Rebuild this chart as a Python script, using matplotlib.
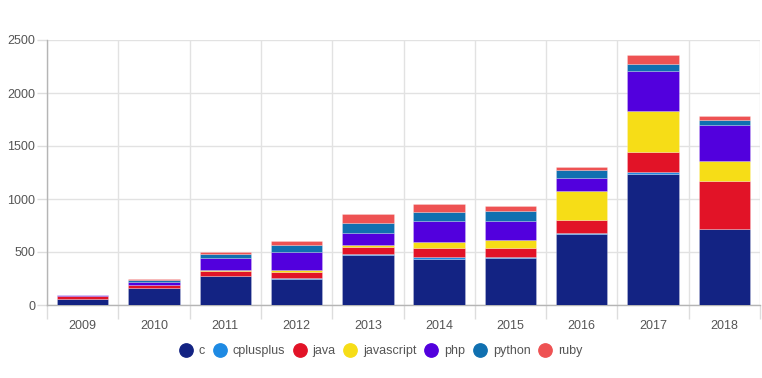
import matplotlib
matplotlib.use("Agg")
import matplotlib.pyplot as plt
from matplotlib.lines import Line2D
import numpy as np

years = ["2009", "2010", "2011", "2012", "2013", "2014", "2015", "2016", "2017", "2018"]
c = [55, 160, 275, 250, 475, 435, 445, 670, 1240, 715]
cplusplus = [2, 5, 3, 5, 3, 15, 12, 5, 15, 5]
java = [25, 22, 45, 60, 70, 90, 85, 125, 185, 450]
javascript = [2, 3, 5, 12, 20, 50, 75, 275, 393, 190]
php = [10, 28, 120, 175, 115, 205, 180, 123, 377, 340]
python = [3, 20, 30, 60, 90, 85, 88, 78, 66, 45]
ruby = [2, 5, 25, 38, 85, 70, 52, 30, 85, 38]

series = [("c", c), ("cplusplus", cplusplus), ("java", java), ("javascript", javascript),
          ("php", php), ("python", python), ("ruby", ruby)]
colors = ["#132383", "#1E8AE3", "#E21327", "#F6DD17", "#5200DD", "#1070B0", "#EE5253"]

plt.rcParams["font.family"] = ["Liberation Sans", "DejaVu Sans"]
fig = plt.figure(figsize=(7.62, 3.78), dpi=100)
ax = fig.add_axes([47/762, 1-305/378, 713/762, 265/378])

x = np.arange(len(years))
bottom = np.zeros(len(years))
for (name, vals), col in zip(series, colors):
    ax.bar(x, vals, width=0.72, bottom=bottom, color=col, edgecolor=(1, 1, 1, 0.25),
           linewidth=0.6, zorder=3)
    bottom += np.array(vals)

ax.set_xlim(-0.5, len(years) - 0.5)
ax.set_ylim(0, 2500)
ax.set_yticks(np.arange(0, 2501, 500))
ax.set_xticks(x)
ax.set_xticklabels(years)
ax.set_xticks(np.arange(-0.5, len(years)), minor=True)

ax.tick_params(axis="x", which="major", length=0, pad=11, labelsize=9, labelcolor="#555555")
ax.tick_params(axis="x", which="minor", length=10, color="#dddddd", width=1)
ax.tick_params(axis="y", which="major", length=7, color="#dddddd", width=1, pad=1.5,
               labelsize=9, labelcolor="#555555")

ax.grid(axis="y", which="major", color="#e2e2e2", linewidth=1, zorder=0)
ax.grid(axis="x", which="minor", color="#e2e2e2", linewidth=1, zorder=0)
ax.grid(axis="x", which="major", visible=False)

for s in ["top", "right"]:
    ax.spines[s].set_visible(False)
for s in ["left", "bottom"]:
    ax.spines[s].set_color("#b5b5b5")
    ax.spines[s].set_linewidth(1)

handles = [Line2D([0], [0], marker="o", linestyle="", markersize=9.6, markerfacecolor=col,
                  markeredgecolor=col, label=name) for (name, _), col in zip(series, colors)]
leg = fig.legend(handles=handles, loc="center", bbox_to_anchor=(0.5, 1-351/378), ncol=7,
                 frameon=False, fontsize=9, handletextpad=0.55, columnspacing=0.65,
                 handlelength=1.0)
for t in leg.get_texts():
    t.set_color("#555555")

fig.savefig("out.png", dpi=100)
